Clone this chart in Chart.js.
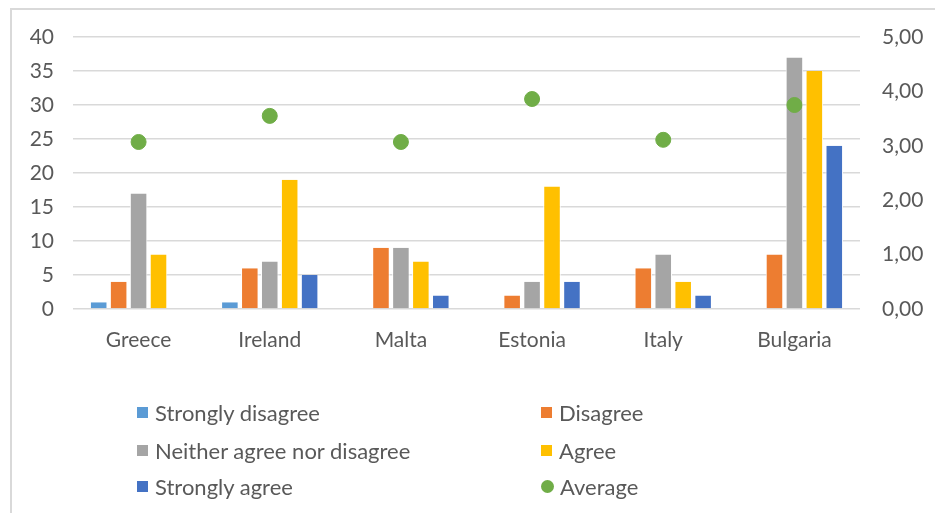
<!DOCTYPE html>
<html>
<head>
<meta charset="utf-8">
<script src="https://cdn.jsdelivr.net/npm/chart.js@4.4.1/dist/chart.umd.min.js"></script>
<style>
  html, body { margin: 0; padding: 0; background: #fff; }
  #wrap { position: relative; width: 935px; height: 513px; overflow: hidden; }
  #frame { position: absolute; left: 10px; top: 8px; width: 940px; height: 520px; border: 2px solid #d9d9d9; box-sizing: border-box; }
  #chartCanvas { position: absolute; left: 0; top: 0; }
  #legend { position: absolute; left: 0; top: 0; width: 935px; height: 513px; pointer-events: none;
    font-family: Lato, "Liberation Sans", sans-serif; font-size: 22px; color: #595959; }
  .item { position: absolute; display: flex; align-items: center; white-space: nowrap; }
  .swatch { width: 11px; height: 11px; margin-right: 7px; }
  .dot { border-radius: 50%; width: 13px; height: 13px; margin-right: 6px; }
</style>
</head>
<body>
<div id="wrap">
  <div id="frame"></div>
  <canvas id="chartCanvas" width="935" height="513"></canvas>
  <div id="legend"></div>
</div>
<script>
// Data
const countries = ['Greece', 'Ireland', 'Malta', 'Estonia', 'Italy', 'Bulgaria'];
const stronglyDisagree = [1, 1, 0, 0, 0, 0];
const disagree = [4, 6, 9, 2, 6, 8];
const neither = [17, 7, 9, 4, 8, 37];
const agree = [8, 19, 7, 18, 4, 35];
const stronglyAgree = [0, 5, 2, 4, 2, 24];
const average = [3.07, 3.55, 3.07, 3.86, 3.11, 3.75];

const leftTicks = [0, 5, 10, 15, 20, 25, 30, 35, 40];
const rightTicks = ['0,00', '1,00', '2,00', '3,00', '4,00', '5,00'];

const FONT = 'Lato, "Liberation Sans", sans-serif';
const TEXT = '#595959';

function barSet(label, data, color) {
  return {
    type: 'bar',
    label: label,
    data: data,
    backgroundColor: color,
    borderColor: '#ffffff',
    borderWidth: { top: 0, left: 1, right: 1, bottom: 0 },
    yAxisID: 'y',
    barPercentage: 0.88,
    categoryPercentage: 0.76,
    order: 2
  };
}

function renderChart() {
  const ctx = document.getElementById('chartCanvas').getContext('2d');
  const chart = new Chart(ctx, {
    data: {
      labels: countries,
      datasets: [
        barSet('Strongly disagree', stronglyDisagree, '#5b9bd5'),
        barSet('Disagree', disagree, '#ed7d31'),
        barSet('Neither agree nor disagree', neither, '#a5a5a5'),
        barSet('Agree', agree, '#ffc000'),
        barSet('Strongly agree', stronglyAgree, '#4472c4'),
        {
          type: 'line',
          label: 'Average',
          data: average,
          yAxisID: 'y2',
          showLine: false,
          pointRadius: 7.5,
          pointBackgroundColor: '#70ad47',
          pointBorderColor: '#70ad47',
          order: 1
        }
      ]
    },
    options: {
      responsive: false,
      animation: false,
      layout: { padding: { left: 0, right: 0, top: 37, bottom: 0 } },
      plugins: {
        legend: { display: false },
        tooltip: { enabled: false }
      },
      scales: {
        x: {
          grid: { display: false, drawTicks: false },
          border: { display: false },
          ticks: { color: TEXT, font: { family: FONT, size: 21 }, padding: 19 },
          afterFit: function(scale) { scale.height = 204; }
        },
        y: {
          position: 'left',
          min: 0,
          max: 40,
          afterBuildTicks: function(scale) { scale.ticks = leftTicks.map(v => ({ value: v })); },
          grid: { color: '#d9d9d9', lineWidth: 1.5, drawTicks: false },
          border: { display: false },
          ticks: { color: TEXT, font: { family: FONT, size: 21 }, padding: 19 },
          afterFit: function(scale) { scale.width = 73; }
        },
        y2: {
          position: 'right',
          min: 0,
          max: 5,
          grid: { display: false, drawTicks: false },
          border: { display: false },
          ticks: {
            stepSize: 1,
            color: TEXT,
            font: { family: FONT, size: 21 },
            padding: 22,
            callback: function(v) { return rightTicks[v]; }
          },
          afterFit: function(scale) { scale.width = 75; }
        }
      }
    }
  });
  buildLegend(chart);
}

// two-column legend under the plot, like the original
function buildLegend(chart) {
  const box = document.getElementById('legend');
  const cols = [137, 541];
  const rows = [412, 450, 486];
  chart.data.datasets.forEach(function(ds, i) {
    const item = document.createElement('div');
    item.className = 'item';
    item.style.left = cols[i % 2] + 'px';
    item.style.top = (rows[Math.floor(i / 2)] - 14) + 'px';
    item.style.height = '28px';
    const sw = document.createElement('span');
    sw.className = ds.type === 'line' ? 'swatch dot' : 'swatch';
    sw.style.background = ds.type === 'line' ? ds.pointBackgroundColor : ds.backgroundColor;
    const txt = document.createElement('span');
    txt.textContent = ds.label;
    item.appendChild(sw);
    item.appendChild(txt);
    box.appendChild(item);
  });
}

window.onload = function() {
  renderChart();
};
</script>
</body>
</html>
